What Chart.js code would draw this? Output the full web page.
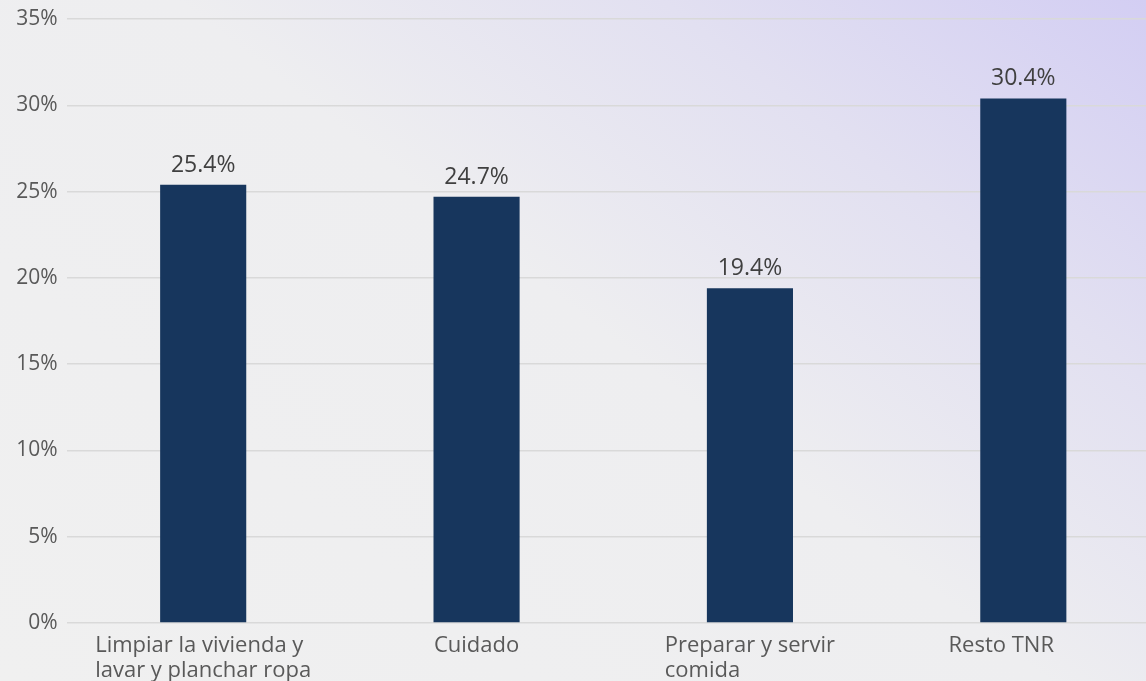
<!DOCTYPE html>
<html>
<head>
<meta charset="utf-8">
<script src="https://cdn.jsdelivr.net/npm/chart.js@4/dist/chart.umd.min.js"></script>
<style>
  html, body { margin: 0; padding: 0; width: 1146px; height: 681px; overflow: hidden; }
  body { background: linear-gradient(218deg, #d3cef3 0%, #e2e0f1 24%, #eeeef0 48%, #f0f0f0 100%); }
  #wrap { position: relative; width: 1160px; height: 681px; }
</style>
</head>
<body>
<div id="wrap"><canvas id="chartTNR"></canvas></div>
<script>
// Datos del gráfico
const categorias = [
  ['Limpiar la vivienda y', 'lavar y planchar ropa'],
  ['Cuidado'],
  ['Preparar y servir', 'comida'],
  ['Resto TNR']
];
const valores = [25.4, 24.7, 19.4, 30.4];
const ticksY = [0, 5, 10, 15, 20, 25, 30, 35];

const FUENTE = "'Open Sans', 'Noto Sans', sans-serif";
const MARGEN_ETIQUETA = 92;
const ANCHO_VISIBLE = 1146;

// Etiquetas de valor encima de cada barra
const etiquetasValor = {
  id: 'etiquetasValor',
  afterDatasetsDraw(chart) {
    const ctx = chart.ctx;
    const meta = chart.getDatasetMeta(0);
    ctx.save();
    ctx.font = '23px ' + FUENTE;
    ctx.fillStyle = '#404040';
    ctx.textAlign = 'center';
    ctx.textBaseline = 'alphabetic';
    meta.data.forEach((bar, i) => {
      ctx.fillText(valores[i].toFixed(1) + '%', bar.x, bar.y - 13);
    });
    ctx.restore();
  }
};

// Etiquetas del eje X: bloque centrado, líneas alineadas a la izquierda
const etiquetasX = {
  id: 'etiquetasX',
  afterDraw(chart) {
    const ctx = chart.ctx;
    const x = chart.scales.x;
    const base = chart.scales.y.getPixelForValue(0);
    ctx.save();
    ctx.font = '22px ' + FUENTE;
    ctx.fillStyle = '#595959';
    ctx.textAlign = 'left';
    ctx.textBaseline = 'alphabetic';
    categorias.forEach((lineas, i) => {
      const cx = x.getPixelForValue(i);
      const w = Math.max(...lineas.map(l => ctx.measureText(l).width));
      let izq = cx - w / 2;
      // como en Excel, la etiqueta no se sale del área del gráfico
      izq = Math.max(MARGEN_ETIQUETA, Math.min(izq, ANCHO_VISIBLE - MARGEN_ETIQUETA - w));
      lineas.forEach((l, j) => {
        ctx.fillText(l, izq, base + 29 + j * 25);
      });
    });
    ctx.restore();
  }
};

new Chart(document.getElementById('chartTNR').getContext('2d'), {
  type: 'bar',
  data: {
    labels: categorias.map(c => c.join(' ')),
    datasets: [{
      data: valores,
      backgroundColor: '#17365d',
      categoryPercentage: 1,
      barPercentage: 0.315
    }]
  },
  options: {
    responsive: true, maintainAspectRatio: false, animation: false,
    layout: { padding: { top: 19, right: 0, bottom: 0, left: 0 } },
    plugins: { legend: { display: false }, tooltip: { enabled: false } },
    scales: {
      x: {
        grid: { display: false }, border: { display: false },
        ticks: { display: false },
        afterFit: s => { s.height = 58; }
      },
      y: {
        min: 0, max: 35,
        afterBuildTicks: s => { s.ticks = ticksY.map(v => ({ value: v })); },
        afterFit: s => { s.width = 66.5; s.paddingTop = 0; },
        grid: { color: '#d9d9d9', lineWidth: 1.5, drawTicks: false },
        border: { display: false },
        ticks: { font: { family: FUENTE, size: 21 }, color: '#595959', padding: 9, callback: v => v + '%' }
      }
    }
  },
  plugins: [etiquetasValor, etiquetasX]
});
</script>
</body>
</html>
